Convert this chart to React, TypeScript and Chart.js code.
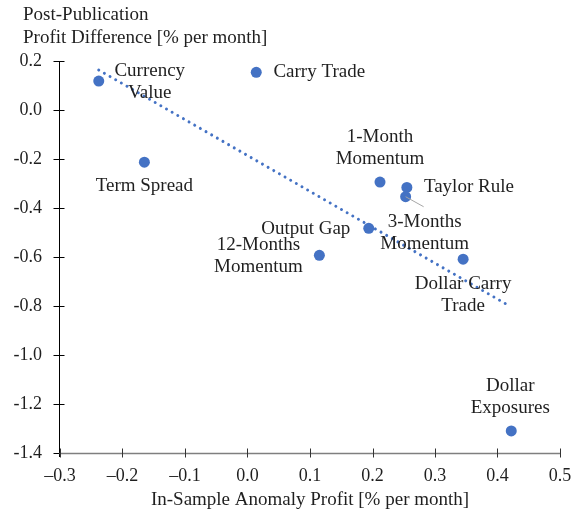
import React, { useEffect, useRef } from 'react';
import { Chart, registerables } from 'chart.js';

Chart.register(...registerables);

// ---- data ----
const anomalies = [
  'Currency Value',
  'Carry Trade',
  'Term Spread',
  '1-Month Momentum',
  'Taylor Rule',
  '3-Months Momentum',
  'Output Gap',
  '12-Months Momentum',
  'Dollar Carry Trade',
  'Dollar Exposures',
];
const inSampleProfit = [-0.238, 0.014, -0.165, 0.212, 0.255, 0.253, 0.194, 0.115, 0.345, 0.422];
const postPublicationDiff = [0.118, 0.154, -0.213, -0.294, -0.316, -0.354, -0.483, -0.593, -0.609, -1.31];
const trendX = [-0.238, 0.42];
const trendY = [0.163, -0.801];
const xTickValues = [-0.3, -0.2, -0.1, 0, 0.1, 0.2, 0.3, 0.4, 0.5];
const yTickValues = [0.2, 0, -0.2, -0.4, -0.6, -0.8, -1.0, -1.2, -1.4];

const xTitle = 'In-Sample Anomaly Profit [% per month]';
const yTitleLines = ['Post-Publication', 'Profit Difference [% per month]'];

// ---- label layout (pixel offsets of the label block centre from its point) ----
const labelLayout = [
  { dx: 51, dy: 1, split: true },
  { dx: 63, dy: 0, split: false },
  { dx: 0, dy: 24, split: false },
  { dx: 0, dy: -34, split: true },
  { dx: 62, dy: 0, split: false },
  { dx: 19, dy: 36, split: true },
  { dx: -63, dy: 1, split: false },
  { dx: -61, dy: 1, split: true },
  { dx: 0, dy: 36, split: true },
  { dx: -1, dy: -34, split: true },
];
const leaderIndex = 5;
const leaderEnd = { dx: 18, dy: 10 };

const FONT = "'Liberation Serif', 'DejaVu Serif', serif";
const FONT_SIZE = 19;
const TICK_FONT_SIZE = 18;
const TEXT_COLOR = '#1f1f1f';
const BLUE = '#4472C4';

const fmtY = (v: number) => (Math.round(v * 10) / 10).toFixed(1);
const fmtX = (v: number) => {
  const r = Math.round(v * 10) / 10;
  const s = Math.abs(r).toFixed(1);
  return r < 0 ? '\u2013' + s : s;
};

const overlayPlugin = {
  id: 'overlay',
  beforeDatasetsDraw(chart: any) {
    const { ctx, scales } = chart;
    const xs = scales.x;
    const ys = scales.y;
    ctx.save();
    // y axis
    ctx.strokeStyle = '#000';
    ctx.lineWidth = 1;
    const ax = Math.round(xs.getPixelForValue(-0.3)) - 0.5;
    ctx.beginPath();
    ctx.moveTo(ax, ys.getPixelForValue(0.2));
    ctx.lineTo(ax, ys.getPixelForValue(-1.4) + 4);
    ctx.stroke();
    yTickValues.forEach((v) => {
      const y = Math.round(ys.getPixelForValue(v)) + 0.5;
      ctx.beginPath();
      ctx.moveTo(ax - 6, y);
      ctx.lineTo(ax + 5, y);
      ctx.stroke();
    });
    // x axis
    const ay = Math.round(ys.getPixelForValue(-1.4)) + 0.5;
    ctx.strokeStyle = '#7f7f7f';
    ctx.lineWidth = 1.5;
    ctx.beginPath();
    ctx.moveTo(ax, ay);
    ctx.lineTo(xs.getPixelForValue(0.5), ay);
    ctx.stroke();
    ctx.strokeStyle = '#333';
    ctx.lineWidth = 1;
    xTickValues.forEach((v) => {
      const x = Math.round(xs.getPixelForValue(v)) + 0.5;
      ctx.beginPath();
      ctx.moveTo(x, ay - 5);
      ctx.lineTo(x, ay + 4);
      ctx.stroke();
    });
    ctx.restore();
  },
  afterDatasetsDraw(chart: any) {
    const { ctx, chartArea, scales } = chart;
    const xs = scales.x;
    const ys = scales.y;
    ctx.save();
    ctx.font = `${FONT_SIZE}px ${FONT}`;
    ctx.fillStyle = TEXT_COLOR;
    ctx.textAlign = 'center';
    ctx.textBaseline = 'middle';
    const lineH = 22;
    anomalies.forEach((name, i) => {
      const px = xs.getPixelForValue(inSampleProfit[i]);
      const py = ys.getPixelForValue(postPublicationDiff[i]);
      const lay = labelLayout[i];
      let lines = [name];
      if (lay.split) {
        const k = name.lastIndexOf(' ');
        lines = [name.slice(0, k), name.slice(k + 1)];
      }
      const cx = px + lay.dx;
      const cy = py + lay.dy;
      lines.forEach((ln, j) => {
        ctx.fillText(ln, cx, cy + (j - (lines.length - 1) / 2) * lineH);
      });
      if (i === leaderIndex) {
        ctx.save();
        ctx.strokeStyle = '#a6a6a6';
        ctx.lineWidth = 1;
        ctx.beginPath();
        ctx.moveTo(px, py);
        ctx.lineTo(px + leaderEnd.dx, py + leaderEnd.dy);
        ctx.stroke();
        ctx.restore();
      }
    });
    // axis titles
    ctx.textAlign = 'center';
    ctx.fillText(xTitle, (chartArea.left + chartArea.right) / 2, 500);
    ctx.textAlign = 'left';
    yTitleLines.forEach((t, j) => ctx.fillText(t, 23, 15 + j * 23));
    ctx.restore();
  },
};

export default function App() {
  const ref = useRef<HTMLCanvasElement | null>(null);
  useEffect(() => {
    if (!ref.current) return;
    const chart = new Chart(ref.current, {
      type: 'scatter',
      data: {
        datasets: [
          {
            type: 'line',
            label: 'Trend',
            data: trendX.map((x, i) => ({ x, y: trendY[i] })),
            borderColor: BLUE,
            borderWidth: 3,
            borderDash: [0.01, 6.5],
            borderCapStyle: 'round',
            pointRadius: 0,
            fill: false,
            order: 2,
          } as any,
          {
            label: 'Anomalies',
            data: inSampleProfit.map((x, i) => ({ x, y: postPublicationDiff[i] })),
            backgroundColor: BLUE,
            borderColor: BLUE,
            borderWidth: 0,
            pointRadius: 5.5,
            order: 1,
          },
        ],
      },
      options: {
        animation: false,
        responsive: false,
        devicePixelRatio: 1,
        layout: { padding: { top: 61, right: 18, left: 0, bottom: 0 } },
        plugins: { legend: { display: false }, tooltip: { enabled: false }, title: { display: false } },
        scales: {
          x: {
            type: 'linear',
            min: -0.3,
            max: 0.5,
            grid: { display: false, drawTicks: false },
            border: { display: false },
            afterBuildTicks: (s: any) => {
              s.ticks = xTickValues.map((v) => ({ value: v }));
            },
            afterFit: (s: any) => {
              s.height = 61;
              s.paddingLeft = 0;
              s.paddingRight = 0;
            },
            ticks: {
              padding: 12,
              color: TEXT_COLOR,
              font: { family: FONT, size: TICK_FONT_SIZE },
              callback: (v: any) => fmtX(Number(v)),
              maxRotation: 0,
              autoSkip: false,
            },
          },
          y: {
            type: 'linear',
            min: -1.4,
            max: 0.2,
            grid: { display: false, drawTicks: false },
            border: { display: false },
            afterBuildTicks: (s: any) => {
              s.ticks = yTickValues.map((v) => ({ value: v }));
            },
            afterFit: (s: any) => {
              s.width = 60;
              s.paddingTop = 0;
              s.paddingBottom = 0;
            },
            ticks: {
              padding: 18,
              color: TEXT_COLOR,
              font: { family: FONT, size: TICK_FONT_SIZE },
              callback: (v: any) => fmtY(Number(v)),
              autoSkip: false,
            },
          },
        },
      },
      plugins: [overlayPlugin],
    });
    return () => chart.destroy();
  }, []);
  return (
    <div style={{ position: 'absolute', left: 0, top: 0, width: 578, height: 514, background: '#fff' }}>
      <canvas ref={ref} width={578} height={514} style={{ display: 'block' }} />
    </div>
  );
}
